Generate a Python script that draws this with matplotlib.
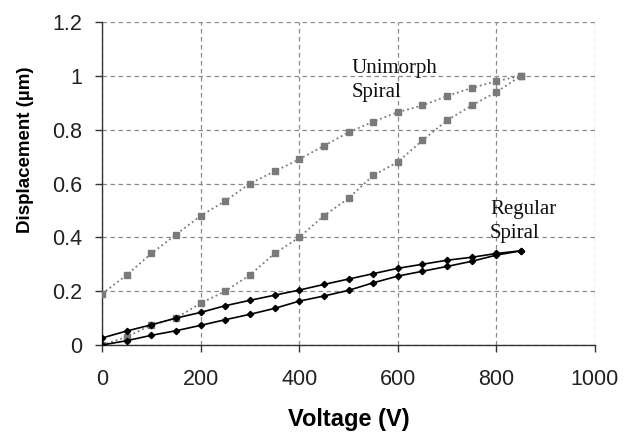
import matplotlib
matplotlib.use("Agg")
import matplotlib.pyplot as plt

# Voltage steps (V)
voltage = [0, 50, 100, 150, 200, 250, 300, 350, 400, 450,
           500, 550, 600, 650, 700, 750, 800, 850]

# Unimorph spiral, two branches of the loop (um)
unimorph_up = [0.19, 0.26, 0.34, 0.41, 0.48, 0.535, 0.60, 0.645, 0.69, 0.74,
               0.79, 0.83, 0.865, 0.89, 0.925, 0.955, 0.98, 1.0]
unimorph_low = [0.0, 0.03, 0.074, 0.10, 0.155, 0.20, 0.26, 0.34, 0.40, 0.48,
                0.545, 0.63, 0.68, 0.76, 0.835, 0.89, 0.94, 1.0]

# Regular spiral, two branches of the loop (um)
regular_up = [0.026, 0.052, 0.075, 0.10, 0.121, 0.146, 0.166, 0.185, 0.204, 0.225,
              0.245, 0.265, 0.285, 0.30, 0.315, 0.326, 0.34, 0.35]
regular_low = [0.0, 0.016, 0.036, 0.053, 0.073, 0.094, 0.114, 0.136, 0.163, 0.182,
               0.203, 0.231, 0.256, 0.274, 0.292, 0.311, 0.334, 0.35]

xticks = [0, 200, 400, 600, 800, 1000]
yticks = [0, 0.2, 0.4, 0.6, 0.8, 1.0, 1.2]
ytick_labels = ['0', '0.2', '0.4', '0.6', '0.8', '1', '1.2']

fig = plt.figure(figsize=(6.24, 4.36), dpi=100)
ax = fig.add_axes([0.1635, 0.2087, 0.79, 0.7408])

grey = '#7a7a7a'
for y in (unimorph_up, unimorph_low):
    ax.plot(voltage, y, color=grey, linestyle=':', linewidth=1.3,
            marker='s', markersize=4.8, markerfacecolor=grey,
            markeredgecolor=grey, zorder=3)
for y in (regular_up, regular_low):
    ax.plot(voltage, y, color='black', linestyle='-', linewidth=1.2,
            marker='D', markersize=3.2, zorder=4)

ax.set_xlim(0, 1000)
ax.set_ylim(0, 1.2)
ax.set_xticks(xticks)
ax.set_yticks(yticks)
ax.set_yticklabels(ytick_labels)

ax.grid(True, color='#8a8a8a', linestyle=(0, (3.6, 2.8)), linewidth=0.9)
ax.set_axisbelow(True)
for s in ('top', 'right'):
    ax.spines[s].set_visible(False)
for s in ('left', 'bottom'):
    ax.spines[s].set_linewidth(1.0)
    ax.spines[s].set_color('#333333')

ax.tick_params(axis='both', direction='out', length=5, width=1.0,
               color='#333333', labelsize=15.5, labelcolor='#222222')
ax.tick_params(axis='x', pad=12)
ax.tick_params(axis='y', pad=9)
for lab in ax.get_xticklabels() + ax.get_yticklabels():
    lab.set_fontfamily('Liberation Sans')

ax.set_xlabel('Voltage (V)', fontsize=17, fontweight='bold',
              fontfamily='Liberation Sans')
ax.xaxis.set_label_coords(0.501, -0.232)
ax.xaxis.label.set_verticalalignment('center')
ax.set_ylabel('Displacement (\u00b5m)', fontsize=13.5, fontweight='bold',
              fontfamily='Liberation Sans')
ax.yaxis.set_label_coords(-0.155, 0.604)
ax.yaxis.label.set_verticalalignment('center')

# labels sit on the baseline of their last line
ax.text(507, 0.921, 'Unimorph\nSpiral', fontsize=15, fontfamily='Liberation Serif',
        ha='left', va='baseline', color='#111111', linespacing=1.4)
ax.text(787, 0.397, 'Regular\nSpiral', fontsize=15, fontfamily='Liberation Serif',
        ha='left', va='baseline', color='#111111', linespacing=1.4)

fig.savefig('out.png', dpi=100)
